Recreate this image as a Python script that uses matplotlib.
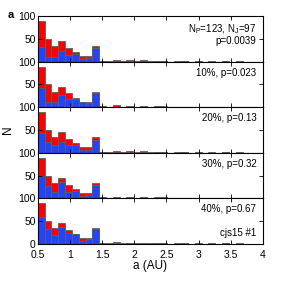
import numpy as np
import matplotlib
matplotlib.use("Agg")
import matplotlib.pyplot as plt

plt.rcParams['font.family'] = ['Liberation Sans', 'DejaVu Sans']
plt.rcParams['mathtext.default'] = 'regular'

# bin edges in a (AU)
edges = np.linspace(0.5, 4.0, 34)

# total counts (red) - same in every panel
total = [89, 50, 34, 45, 30, 21, 12, 12, 34,
         2, 1, 4, 1, 3, 1, 3, 1, 2, 2, 0, 1, 1, 0, 1, 0, 1, 0, 1, 0, 1, 0, 0, 0]

# blue counts per panel
blue_tail = [1, 0, 1, 0, 1, 0, 1, 0, 1, 1, 0, 0, 1, 0, 0, 0, 0, 0, 1, 0, 0, 0, 0, 0]
blue = [
    [33, 9, 10, 24, 15, 16, 5, 7, 30] + blue_tail,
    [43, 12, 12, 26, 17, 17, 12, 10, 31] + blue_tail,
    [43, 24, 16, 23, 16, 16, 5, 7, 29] + blue_tail,
    [50, 28, 13, 36, 13, 16, 5, 8, 30] + blue_tail,
    [60, 33, 20, 37, 25, 21, 7, 10, 32] + blue_tail,
]

labels = ["N$_P$=123, N$_J$=97\np=0.0039", "10%, p=0.023", "20%, p=0.13",
          "30%, p=0.32", "40%, p=0.67"]

fig = plt.figure(figsize=(2.91, 2.81), dpi=100)
left, right, top, bottom = 0.1296, 0.904, 0.943, 0.132
h = (top - bottom) / 5
width = edges[1] - edges[0]

for i in range(5):
    ax = fig.add_axes([left, top - (i + 1) * h, right - left, h])
    ax.bar(edges[:-1], total, width=width, align='edge', color='#ff0000',
           edgecolor='#606060', linewidth=0.6)
    ax.bar(edges[:-1], blue[i], width=width, align='edge', color='#2244ff',
           edgecolor='#606060', linewidth=0.6)
    ax.set_xlim(0.5, 4)
    ax.set_ylim(0, 100)
    ax.set_xticks([0.5, 1, 1.5, 2, 2.5, 3, 3.5, 4])
    ax.set_yticks([0, 50, 100])
    ax.tick_params(direction='in', top=True, right=True, length=3,
                   width=0.6, labelsize=7.5, pad=1.5)
    ax.tick_params(axis='x', pad=4.5)
    for s in ax.spines.values():
        s.set_linewidth(0.8)
    if i < 4:
        ax.set_xticklabels([])
        ax.set_yticklabels(['', '50', '100'])
    else:
        ax.set_xticklabels(['0.5', '1', '1.5', '2', '2.5', '3', '3.5', '4'])
        ax.set_xlabel("a (AU)", fontsize=8.5, labelpad=0)
        ax.text(0.97, 0.12, "cjs15 #1", transform=ax.transAxes, ha='right',
                va='bottom', fontsize=7)
    ax.text(0.97, 0.87, labels[i], transform=ax.transAxes, ha='right',
            va='top', fontsize=7, linespacing=1.1)
    if i == 2:
        ax.set_ylabel("N", fontsize=8.5, labelpad=3)

fig.text(0.025, 0.945, "a", fontsize=8, fontweight='bold', va='center')

fig.savefig("out.png", dpi=100)
